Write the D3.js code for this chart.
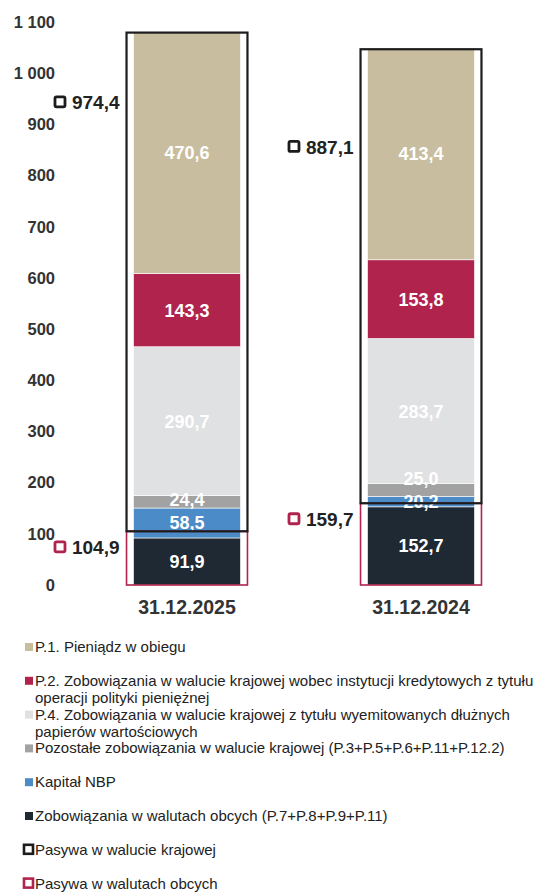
<html>
<head>
<meta charset="utf-8">
<title>Pasywa NBP</title>
<script src="https://cdn.jsdelivr.net/npm/d3@7/dist/d3.min.js"></script>
<style>
  body { margin: 0; background: #fff; }
  svg text { font-family: "Liberation Sans", Arial, sans-serif; }
</style>
</head>
<body>
<script>
// data (mld zł)
var categories = ["31.12.2025", "31.12.2024"];
var seriesNames = [
  "Zobowiązania w walutach obcych (P.7+P.8+P.9+P.11)",
  "Kapitał NBP",
  "Pozostałe zobowiązania w walucie krajowej (P.3+P.5+P.6+P.11+P.12.2)",
  "P.4. Zobowiązania w walucie krajowej z tytułu wyemitowanych dłużnych\npapierów wartościowych",
  "P.2. Zobowiązania w walucie krajowej wobec instytucji kredytowych z tytułu\noperacji polityki pieniężnej",
  "P.1. Pieniądz w obiegu"
];
var seriesColors = ["#1f2933", "#4b8bc8", "#a2a2a2", "#dfe1e2", "#b0234d", "#c8bd9e"];
var values2025 = [91.9, 58.5, 24.4, 290.7, 143.3, 470.6];
var values2024 = [152.7, 20.2, 25.0, 283.7, 153.8, 413.4];
var domestic = [974.4, 887.1];   // Pasywa w walucie krajowej
var foreign = [104.9, 159.7];    // Pasywa w walutach obcych
var yTicks = [0, 100, 200, 300, 400, 500, 600, 700, 800, 900, 1000, 1100];

var legendOrder = [5, 4, 3, 2, 1, 0];
var outlineNames = ["Pasywa w walucie krajowej", "Pasywa w walutach obcych"];
var outlineColors = ["#1c1c1c", "#b0234d"];

var W = 545, H = 892;
var svg = d3.select("body").append("svg").attr("width", W).attr("height", H);

var pl = d3.formatLocale({decimal: ",", thousands: " ", grouping: [3], currency: ["", ""]});
var fmtTick = pl.format(",d");
var fmtVal = pl.format(".1f");

var y = d3.scaleLinear().domain([0, 1100]).range([585, 22]);
var x = d3.scaleBand().domain(categories).range([70, 538])
  .paddingInner(0.543).paddingOuter(0.2715);

// y axis labels only
svg.append("g").selectAll("text").data(yTicks).enter().append("text")
  .attr("x", 55).attr("y", function(d){ return y(d); })
  .attr("dy", "0.35em")
  .attr("text-anchor", "end")
  .attr("font-size", 16.5).attr("font-weight", "bold").attr("fill", "#333")
  .text(function(d){ return fmtTick(d); });

var table = categories.map(function(c, i){
  var vals = i === 0 ? values2025 : values2024;
  var row = {cat: c};
  vals.forEach(function(v, k){ row["s" + k] = v; });
  return row;
});
var keys = seriesNames.map(function(d, k){ return "s" + k; });
var stacked = d3.stack().keys(keys)(table);

var layers = svg.append("g").selectAll("g").data(stacked).enter().append("g")
  .attr("fill", function(d, k){ return seriesColors[k]; });

layers.selectAll("rect").data(function(d){ return d; }).enter().append("rect")
  .attr("x", function(d){ return x(d.data.cat); })
  .attr("width", x.bandwidth())
  .attr("y", function(d){ return y(d[1]); })
  .attr("height", function(d){ return y(d[0]) - y(d[1]); })
  .attr("stroke", "#fff").attr("stroke-width", 0.6);

// value labels, pushed apart when segments are thin
categories.forEach(function(c, i){
  var lastY = 1e9;
  stacked.forEach(function(layer, k){
    var d = layer[i];
    var cy = y((d[0] + d[1]) / 2);
    if (lastY - cy < 23) cy = lastY - 23;
    lastY = cy;
    svg.append("text")
      .attr("x", x(c) + x.bandwidth() / 2).attr("y", cy)
      .attr("dy", "0.36em").attr("text-anchor", "middle")
      .attr("font-size", 18).attr("font-weight", "bold").attr("fill", "#fff")
      .text(fmtVal(d[1] - d[0]));
  });
});

// outlines: foreign currency at the bottom, domestic on top of it
var pad = 7;
categories.forEach(function(c, i){
  var x0 = x(c) - pad, w = x.bandwidth() + pad * 2;
  svg.append("rect")
    .attr("x", x0).attr("width", w)
    .attr("y", y(foreign[i])).attr("height", y(0) - y(foreign[i]))
    .attr("fill", "none").attr("stroke", outlineColors[1]).attr("stroke-width", 1.6);
  svg.append("rect")
    .attr("x", x0).attr("width", w)
    .attr("y", y(foreign[i] + domestic[i])).attr("height", y(foreign[i]) - y(foreign[i] + domestic[i]))
    .attr("fill", "none").attr("stroke", outlineColors[0]).attr("stroke-width", 2.2);

  [[domestic[i], 0], [foreign[i], 1]].forEach(function(p){
    var ty = y(p[0]) + 16;
    var t = svg.append("text")
      .attr("x", x0 - 7).attr("y", ty).attr("dy", "0.36em")
      .attr("text-anchor", "end")
      .attr("font-size", 19).attr("font-weight", "bold").attr("fill", "#222")
      .text(fmtVal(p[0]));
    var tw = t.node().getComputedTextLength();
    svg.append("rect")
      .attr("x", x0 - 7 - tw - 17).attr("y", ty - 5.5)
      .attr("width", 10).attr("height", 10).attr("rx", 1.5)
      .attr("fill", "#fff").attr("stroke", outlineColors[p[1]]).attr("stroke-width", 2.8);
  });
});

// category labels
svg.append("g").selectAll("text").data(categories).enter().append("text")
  .attr("x", function(d){ return x(d) + x.bandwidth() / 2; })
  .attr("y", 614)
  .attr("text-anchor", "middle")
  .attr("font-size", 19.5).attr("font-weight", "bold").attr("fill", "#333")
  .text(function(d){ return d; });

// legend
var legendItems = legendOrder.map(function(k){
  return {label: seriesNames[k], color: seriesColors[k], outline: false};
}).concat(outlineNames.map(function(n, k){
  return {label: n, color: outlineColors[k], outline: true};
}));

var lg = svg.append("g").selectAll("g").data(legendItems).enter().append("g")
  .attr("transform", function(d, i){ return "translate(0," + (647 + i * 33.8) + ")"; });

lg.append("rect")
  .attr("x", function(d){ return d.outline ? 24 : 25; })
  .attr("y", function(d){ return d.outline ? -5 : -4; })
  .attr("width", function(d){ return d.outline ? 9 : 8; })
  .attr("height", function(d){ return d.outline ? 9 : 8; })
  .attr("fill", function(d){ return d.outline ? "#fff" : d.color; })
  .attr("stroke", function(d){ return d.outline ? d.color : "none"; })
  .attr("stroke-width", 2.6);

lg.each(function(d){
  var g = d3.select(this);
  d.label.split("\n").forEach(function(line, j){
    g.append("text")
      .attr("x", 35).attr("y", j * 17 + 5)
      .attr("font-size", 15).attr("fill", "#222")
      .text(line);
  });
});
</script>
</body>
</html>
